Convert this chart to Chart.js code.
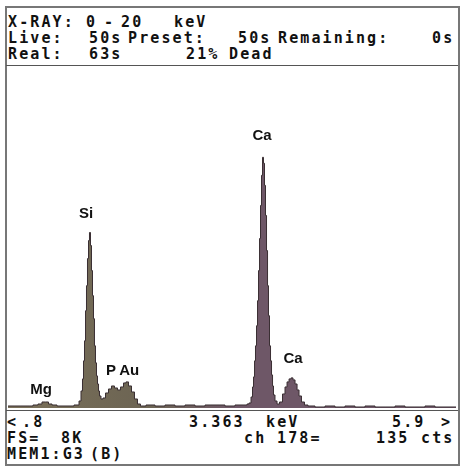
<!DOCTYPE html>
<html>
<head>
<meta charset="utf-8">
<script src="https://cdn.jsdelivr.net/npm/chart.js@4.4.1/dist/chart.umd.min.js"></script>
<style>
  body { margin: 0; background: #fff; width: 461px; height: 466px; overflow: hidden; position: relative; }
  .frame { position: absolute; left: 5px; top: 6px; width: 451px; height: 456px; border: 2px solid #777; }
  .rule { position: absolute; left: 6px; width: 452px; height: 1px; background: #555; }
  .t { position: absolute; font: bold 15px "DejaVu Sans Mono", monospace; letter-spacing: 2.1px; white-space: pre; line-height: 15px; color: #111; }
  #plot { position: absolute; left: 8px; top: 66px; }
</style>
</head>
<body>
<div class="frame"></div>
<div class="rule" style="top:65px"></div>
<div class="rule" style="top:410px"></div>

<!-- header -->
<div class="t" style="left:8px;top:15px">X-RAY:</div>
<div class="t" style="left:86px;top:15px">0</div>
<div class="t" style="left:104px;top:15px">-</div>
<div class="t" style="left:121px;top:15px">20</div>
<div class="t" style="left:174px;top:15px">keV</div>

<div class="t" style="left:8px;top:31px">Live:</div>
<div class="t" style="left:89px;top:31px">50s</div>
<div class="t" style="left:128px;top:31px">Preset:</div>
<div class="t" style="left:238px;top:31px">50s</div>
<div class="t" style="left:278px;top:31px">Remaining:</div>
<div class="t" style="left:432px;top:31px">0s</div>

<div class="t" style="left:8px;top:47px">Real:</div>
<div class="t" style="left:89px;top:47px">63s</div>
<div class="t" style="left:186px;top:47px">21%</div>
<div class="t" style="left:229px;top:47px">Dead</div>

<canvas id="plot" width="448" height="342"></canvas>

<!-- footer -->
<div class="t" style="left:7px;top:415px">&lt;</div>
<div class="t" style="left:22px;top:415px">.8</div>
<div class="t" style="left:189px;top:415px">3.363</div>
<div class="t" style="left:266px;top:415px">keV</div>
<div class="t" style="left:392px;top:415px">5.9</div>
<div class="t" style="left:441px;top:415px">&gt;</div>

<div class="t" style="left:7px;top:431px">FS=</div>
<div class="t" style="left:61px;top:431px">8K</div>
<div class="t" style="left:244px;top:431px">ch</div>
<div class="t" style="left:277px;top:431px">178=</div>
<div class="t" style="left:376px;top:431px">135</div>
<div class="t" style="left:421px;top:431px">cts</div>

<div class="t" style="left:7px;top:447px">MEM1:G3</div>
<div class="t" style="left:90px;top:447px">(B)</div>

<script>
// spectrum, energy in keV and counts per channel
const energyKeV = [
  0.800, 0.937, 1.050, 1.119, 1.164, 1.210, 1.244, 1.278, 1.324, 1.392,
  1.506, 1.597, 1.620, 1.642, 1.654, 1.665, 1.677, 1.688, 1.699, 1.711,
  1.722, 1.733, 1.745, 1.756, 1.768, 1.779, 1.790, 1.802, 1.813, 1.825,
  1.836, 1.847, 1.870, 1.893, 1.927, 1.961, 1.995, 2.029, 2.064, 2.098,
  2.132, 2.155, 2.189, 2.223, 2.257, 2.291, 2.325, 2.417, 2.530, 2.644,
  2.758, 2.872, 2.986, 3.100, 3.213, 3.327, 3.441, 3.510, 3.532, 3.555,
  3.578, 3.589, 3.601, 3.612, 3.623, 3.635, 3.646, 3.658, 3.669, 3.680,
  3.692, 3.703, 3.714, 3.726, 3.737, 3.749, 3.760, 3.771, 3.783, 3.794,
  3.806, 3.817, 3.828, 3.851, 3.874, 3.908, 3.942, 3.965, 3.988, 4.011,
  4.033, 4.056, 4.079, 4.102, 4.124, 4.158, 4.192, 4.238, 4.352, 4.466,
  4.579, 4.693, 4.807, 4.921, 5.035, 5.149, 5.263, 5.376, 5.490, 5.604,
  5.718, 5.900
];
const counts = [
  48, 48, 48, 72, 96, 144, 144, 96, 72, 48,
  48, 72, 168, 408, 697, 1129, 1609, 2330, 2930, 3579,
  4011, 4204, 3891, 3291, 2690, 2138, 1489, 1081, 769, 576,
  408, 288, 216, 240, 360, 456, 528, 480, 432, 504,
  600, 625, 528, 384, 216, 96, 48, 72, 48, 72,
  48, 72, 48, 72, 72, 48, 72, 72, 96, 120,
  264, 504, 745, 1129, 1489, 1970, 2570, 3291, 4059, 4852,
  5573, 6005, 5861, 5332, 4612, 3771, 2930, 2210, 1489, 1129,
  793, 528, 312, 168, 96, 144, 336, 504, 625, 697,
  721, 673, 576, 432, 288, 144, 72, 48, 24, 48,
  24, 48, 24, 48, 24, 24, 48, 24, 24, 48,
  24, 24
];
const peakNames = ["Mg", "Si", "P", "Au", "Ca", "Ca"];
const peakLabelKeV = [1.176, 1.688, 1.972, 2.180, 3.692, 4.044];
const peakLabelCounts = [335, 4551, 790, 790, 6419, 1078];
const keVRange = [0.8, 5.9];
const fullScale = 8192;

const peakLabels = {
  id: "peakLabels",
  afterDatasetsDraw(chart) {
    const { ctx, scales } = chart;
    ctx.save();
    ctx.font = "bold 15px 'Liberation Sans', Arial, sans-serif";
    ctx.fillStyle = "#111";
    ctx.textAlign = "center";
    ctx.textBaseline = "alphabetic";
    peakNames.forEach((name, i) => {
      ctx.fillText(name, scales.x.getPixelForValue(peakLabelKeV[i]), scales.y.getPixelForValue(peakLabelCounts[i]));
    });
    ctx.restore();
  }
};

// olive-brown on the low side, mauve under the calcium lines
function spectrumFill(context) {
  const { chart } = context;
  const area = chart.chartArea;
  if (!area) return "#6e6458";
  const span = keVRange[1] - keVRange[0];
  const g = chart.ctx.createLinearGradient(area.left, 0, area.right, 0);
  g.addColorStop(0, "#7a7059");
  g.addColorStop((2.4 - keVRange[0]) / span, "#6c6453");
  g.addColorStop((3.4 - keVRange[0]) / span, "#6e5767");
  g.addColorStop(1, "#6e5767");
  return g;
}

new Chart(document.getElementById("plot"), {
  type: "line",
  data: {
    datasets: [{
      data: energyKeV.map((e, i) => ({ x: e, y: counts[i] })),
      stepped: "middle",
      fill: "origin",
      backgroundColor: spectrumFill,
      borderColor: "#3a2f33",
      borderWidth: 1,
      pointRadius: 0
    }]
  },
  options: {
    responsive: false,
    animation: false,
    layout: { padding: 0 },
    plugins: { legend: { display: false }, tooltip: { enabled: false } },
    scales: {
      x: { type: "linear", min: keVRange[0], max: keVRange[1], display: false },
      y: { min: 0, max: fullScale, display: false }
    }
  },
  plugins: [peakLabels]
});
</script>
</body>
</html>
